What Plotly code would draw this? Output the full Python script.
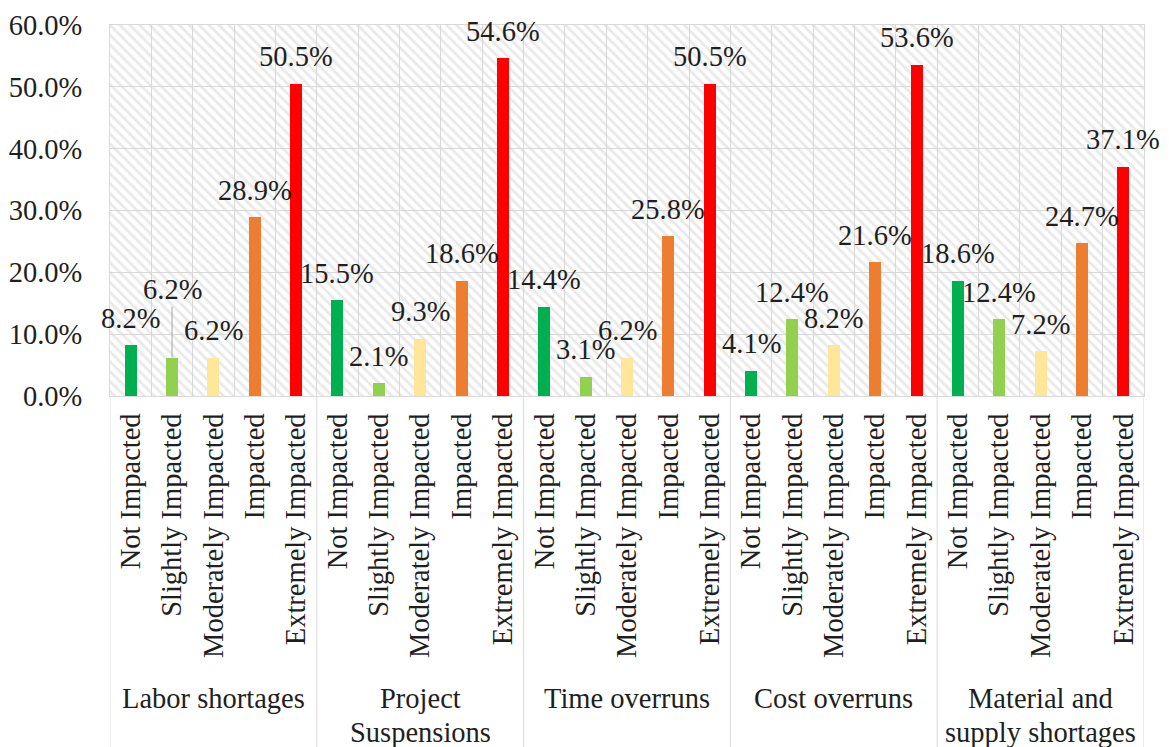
import plotly.graph_objects as go

# Impact categories (one bar each) inside every consequence group
levels = ["Not Impacted", "Slightly Impacted", "Moderately Impacted", "Impacted", "Extremely Impacted"]
groups = ["Labor shortages", "Project<br>Suspensions", "Time overruns",
          "Cost overruns", "Material and<br>supply shortages"]

# Share of respondents (%) per group, one list per impact level
not_impacted = [8.2, 15.5, 14.4, 4.1, 18.6]
slightly_impacted = [6.2, 2.1, 3.1, 12.4, 12.4]
moderately_impacted = [6.2, 9.3, 6.2, 8.2, 7.2]
impacted = [28.9, 18.6, 25.8, 21.6, 24.7]
extremely_impacted = [50.5, 54.6, 50.5, 53.6, 37.1]

series = [not_impacted, slightly_impacted, moderately_impacted, impacted, extremely_impacted]
colors = ["#00B050", "#92D050", "#FFE699", "#ED7D31", "#FF0000"]

Y_MAX = 60
FONT = "'Liberation Serif', 'Times New Roman', Tinos, 'DejaVu Serif', serif"
FS = 28.5
TXT = "#1f1f1f"
GRID = "#d9d9d9"
PLOT_H = 747 - 25 - 351  # plot-area height in px, for paper-space offsets

n_lv = len(levels)
n_slots = n_lv * len(groups)

fig = go.Figure()

# hatched plot background: one translucent patterned bar covering the whole area
fig.add_trace(go.Bar(
    x=[(n_slots - 1) / 2], y=[Y_MAX], width=[n_slots],
    marker=dict(color="rgba(0,0,0,0)", line=dict(width=0),
                pattern=dict(shape="\\", size=7, solidity=0.4,
                             fgcolor="#d4d4d4", fillmode="overlay")),
    hoverinfo="skip", showlegend=False,
))

annotations = []
for li, (name, vals, col) in enumerate(zip(levels, series, colors)):
    xs = [gi * n_lv + li for gi in range(len(groups))]
    fig.add_trace(go.Bar(x=xs, y=vals, width=0.29, name=name,
                         marker=dict(color=col, line=dict(width=0)),
                         showlegend=False))
    for gi, (x, v) in enumerate(zip(xs, vals)):
        lbl = f"{v:.1f}%"
        if gi == 0 and li == 1:
            # label lifted clear of its neighbours, tied back with a leader line
            annotations.append(dict(x=x, y=v, xref="x", yref="y", text=lbl,
                                    showarrow=True, arrowhead=0, arrowwidth=1,
                                    arrowcolor="#a6a6a6", ax=0, ay=-68, standoff=0,
                                    font=dict(family=FONT, size=FS, color=TXT)))
        else:
            annotations.append(dict(x=x, y=v, xref="x", yref="y", text=lbl,
                                    showarrow=False, yanchor="middle", yshift=27,
                                    font=dict(family=FONT, size=FS, color=TXT)))

# group names under the rotated level labels (multi-line names set line by line)
for gi, g in enumerate(groups):
    for k, line in enumerate(g.split("<br>")):
        annotations.append(dict(x=gi * n_lv + (n_lv - 1) / 2, y=-0.769 - k * 34 / PLOT_H,
                                xref="x", yref="paper", text=line, showarrow=False,
                                yanchor="top", xanchor="center",
                                font=dict(family=FONT, size=FS, color=TXT)))

# group separators running down through the category labels
shapes = []
for gi in range(len(groups) + 1):
    xb = gi * n_lv - 0.5
    shapes.append(dict(type="line", xref="x", yref="paper", x0=xb, x1=xb, y0=0, y1=-0.96,
                       line=dict(color=GRID, width=1)))

fig.update_layout(
    width=1169, height=747,
    margin=dict(l=110, r=25, t=25, b=351, autoexpand=False),
    paper_bgcolor="white", plot_bgcolor="white",
    barmode="overlay", bargap=0,
    font=dict(family=FONT, size=FS, color=TXT),
    annotations=annotations, shapes=shapes,
    showlegend=False,
)

fig.update_xaxes(
    range=[-0.5, n_slots - 0.5],
    tickmode="array", tickvals=list(range(n_slots)),
    ticktext=levels * len(groups), tickangle=-90,
    tickfont=dict(family=FONT, size=FS, color=TXT),
    ticks="", ticklabelstandoff=5,
    showgrid=False, zeroline=False,
    showline=True, linecolor=GRID, linewidth=1, mirror=True,
    minor=dict(tickmode="array", tickvals=[i - 0.5 for i in range(n_slots + 1)],
               showgrid=True, gridcolor=GRID, gridwidth=1, ticks=""),
    automargin=False,
)

fig.update_yaxes(
    range=[0, Y_MAX], dtick=10, tickformat=".1f", ticksuffix="%",
    tickfont=dict(family=FONT, size=FS, color=TXT),
    ticks="", ticklabelstandoff=21,
    showgrid=True, gridcolor=GRID, gridwidth=1, zeroline=False,
    showline=True, linecolor=GRID, linewidth=1, mirror=True,
    automargin=False,
)

fig.write_html("out.html")
